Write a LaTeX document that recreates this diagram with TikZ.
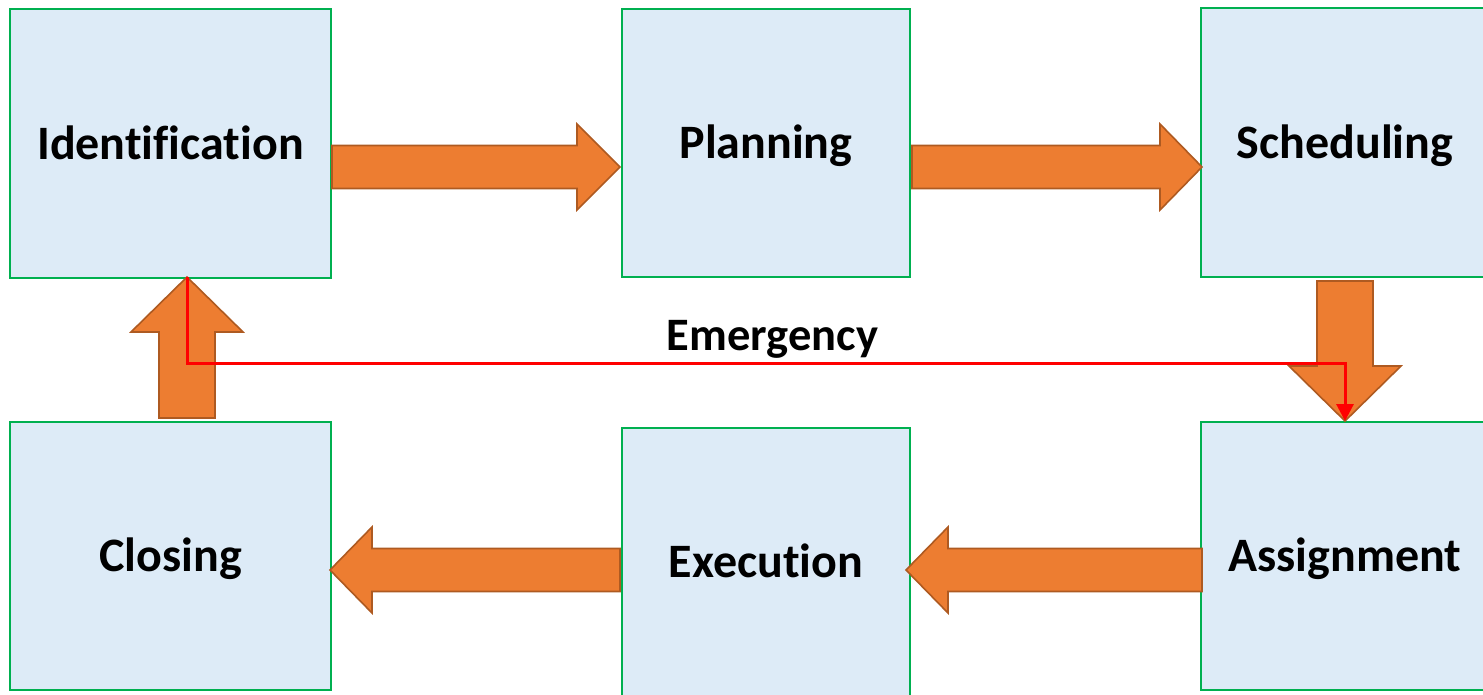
\documentclass[tikz,border=0pt]{standalone}
\usepackage{fontspec}
\setmainfont{Carlito}[Ligatures=NoCommon]
\usetikzlibrary{calc,arrows.meta}
\definecolor{boxfill}{RGB}{221,235,247}
\definecolor{boxline}{RGB}{0,176,80}
\definecolor{arrfill}{RGB}{237,125,49}
\definecolor{arrline}{RGB}{174,90,33}
\newcommand\hbarrow[3]{\draw[barrow] ($(#1)+(0,-21.5)$) -- ($(#2)+(#3,-21.5)$) -- ($(#2)+(#3,-43)$) -- (#2) -- ($(#2)+(#3,43)$) -- ($(#2)+(#3,21.5)$) -- ($(#1)+(0,21.5)$) -- cycle;}
\newcommand\vbarrow[3]{\draw[barrow] ($(#1)+(-28,0)$) -- ($(#2)+(-28,#3)$) -- ($(#2)+(-56,#3)$) -- (#2) -- ($(#2)+(56,#3)$) -- ($(#2)+(28,#3)$) -- ($(#1)+(28,0)$) -- cycle;}
\begin{document}
\begin{tikzpicture}[x=1pt,y=-1pt,
  stage/.style={draw=boxline,fill=boxfill,line width=2pt,inner sep=0pt,
    font=\fontsize{48}{56}\selectfont\bfseries,text height=31pt,text depth=0pt},
  wide/.style={minimum width=321pt,minimum height=268pt},
  narrow/.style={minimum width=288pt,minimum height=268pt},
  barrow/.style={fill=arrfill,draw=arrline,line width=1.6pt,line join=miter},
  emerg/.style={draw=red,line width=3pt,-{Triangle[width=17pt,length=17pt]}},
  elabel/.style={font=\fontsize{46.5}{52}\selectfont\bfseries,inner sep=0pt,anchor=base}]
\useasboundingbox (0,0) rectangle (1483,694);
\clip (0,0) rectangle (1483,694);
\node[stage,wide,minimum height=269pt] (ident) at (170.5,143.5) {Identification};
\node[stage,narrow] (plan) at (766,143) {Planning};
\node[stage,narrow,minimum height=269pt] (sched) at (1345,142.5) {Scheduling};
\node[stage,wide] (close) at (170.5,556) {Closing};
\node[stage,narrow] (exec) at (766,562) {Execution};
\node[stage,narrow] (assign) at (1345,556) {Assignment};
% block arrows
\coordinate (a1s) at (ident.east |- 0,167);
\coordinate (a1e) at (620,167);
\coordinate (a2s) at (912,167);
\coordinate (a2e) at (1202,167);
\coordinate (a3s) at (1345,281);
\coordinate (a3e) at (assign.north);
\coordinate (a4s) at (1202,570);
\coordinate (a4e) at (906,570);
\coordinate (a5s) at (620,570);
\coordinate (a5e) at (330,570);
\coordinate (a6s) at (187,418);
\coordinate (a6e) at (187,277);
\hbarrow{a1s}{a1e}{-43}
\hbarrow{a2s}{a2e}{-42}
\vbarrow{a3s}{a3e}{-55}
\hbarrow{a4s}{a4e}{42}
\hbarrow{a5s}{a5e}{42}
\vbarrow{a6s}{a6e}{55}
% emergency path
\draw[emerg] (a6e) -- (187,363.5) -| (assign.north);
\node[elabel] (em) at (772.5,350) {Emergency};
\end{tikzpicture}
\end{document}
